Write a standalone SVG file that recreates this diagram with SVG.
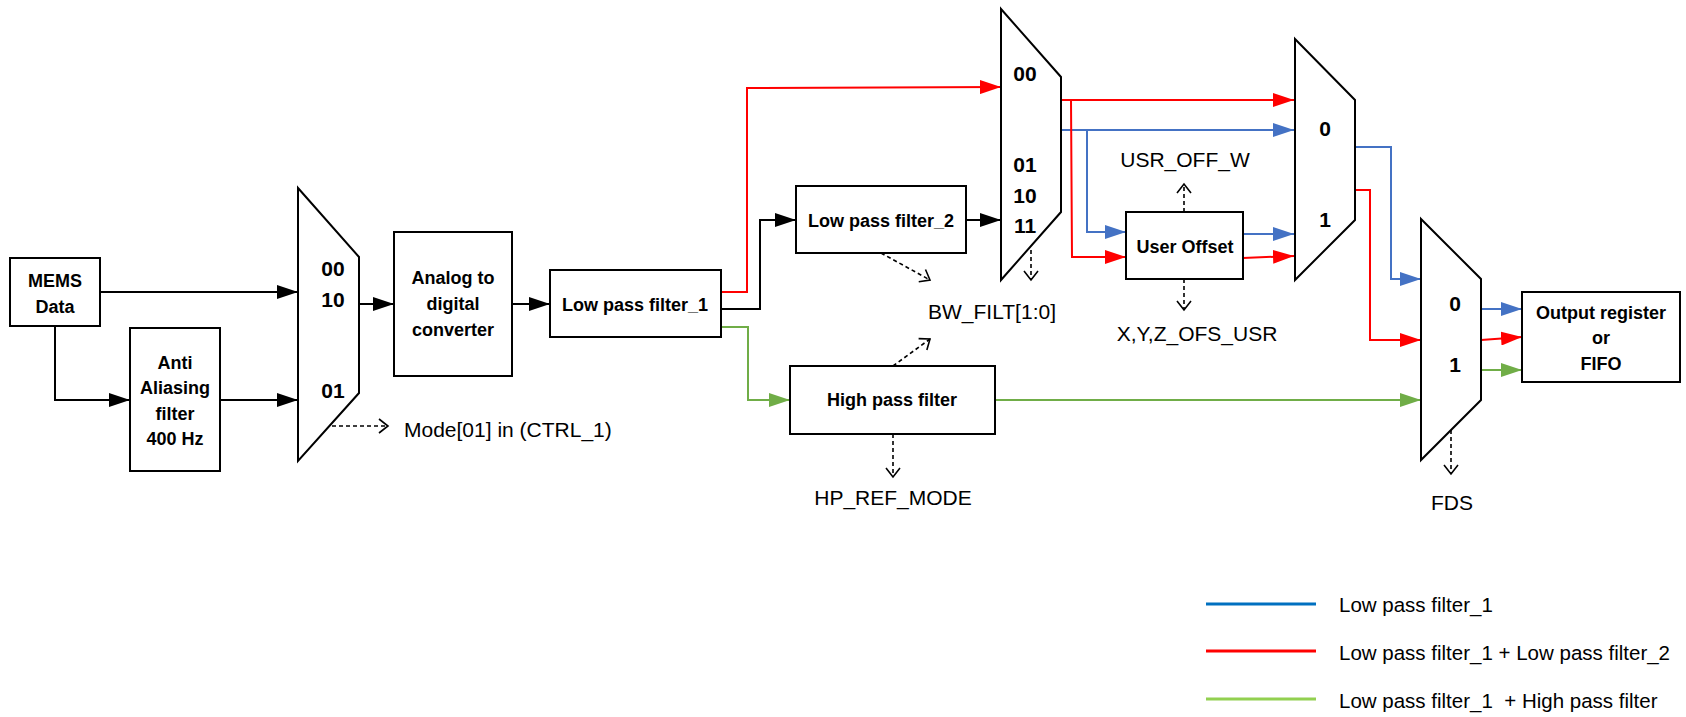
<svg xmlns="http://www.w3.org/2000/svg" width="1686" height="717" viewBox="0 0 1686 717">
<style>
.box{fill:#fff;stroke:#000;stroke-width:2}
.mux{fill:#fff;stroke:#000;stroke-width:2;stroke-linejoin:miter}
.bt{font-family:"Liberation Sans",Arial,sans-serif;font-weight:bold;font-size:18px;text-anchor:middle;fill:#000}
.ml{font-family:"Liberation Sans",Arial,sans-serif;font-weight:bold;font-size:21px;text-anchor:middle;fill:#000}
.lb{font-family:"Liberation Sans",Arial,sans-serif;font-size:21px;fill:#000}
.lg{font-family:"Liberation Sans",Arial,sans-serif;font-size:20.5px;fill:#000;white-space:pre}
.k{fill:none;stroke:#000;stroke-width:2}
.b{fill:none;stroke:#4472C4;stroke-width:2}
.r{fill:none;stroke:#FF0000;stroke-width:2}
.g{fill:none;stroke:#70AD47;stroke-width:2}
.d{fill:none;stroke:#000;stroke-width:1.6;stroke-dasharray:4 3}
</style>
<defs>
<marker id="ak" markerUnits="userSpaceOnUse" markerWidth="21" markerHeight="14" refX="21" refY="7" orient="auto"><path d="M0,0 L21,7 L0,14 z" fill="#000"/></marker>
<marker id="ab" markerUnits="userSpaceOnUse" markerWidth="21" markerHeight="14" refX="21" refY="7" orient="auto"><path d="M0,0 L21,7 L0,14 z" fill="#4472C4"/></marker>
<marker id="ar" markerUnits="userSpaceOnUse" markerWidth="21" markerHeight="14" refX="21" refY="7" orient="auto"><path d="M0,0 L21,7 L0,14 z" fill="#FF0000"/></marker>
<marker id="ag" markerUnits="userSpaceOnUse" markerWidth="21" markerHeight="14" refX="21" refY="7" orient="auto"><path d="M0,0 L21,7 L0,14 z" fill="#70AD47"/></marker>
<marker id="ao" markerUnits="userSpaceOnUse" markerWidth="12" markerHeight="16" refX="10" refY="8" orient="auto"><path d="M1,1 L10,8 L1,15" fill="none" stroke="#000" stroke-width="1.6"/></marker>
</defs>
<rect width="1686" height="717" fill="#fff"/>

<g id="connectors">
<path class="k" d="M100,292 L298,292" marker-end="url(#ak)"/>
<path class="k" d="M55,326 L55,400 L130,400" marker-end="url(#ak)"/>
<path class="k" d="M220,400 L298,400" marker-end="url(#ak)"/>
<path class="k" d="M359,304 L394,304" marker-end="url(#ak)"/>
<path class="k" d="M512,304 L550,304" marker-end="url(#ak)"/>
<path class="r" d="M721,292 L747,292 L747,88 L1001,87" marker-end="url(#ar)"/>
<path class="k" d="M721,309 L760,309 L760,220 L796,220" marker-end="url(#ak)"/>
<path class="g" d="M721,327 L748,327 L748,400 L790,400" marker-end="url(#ag)"/>
<path class="k" d="M966,220 L1001,220" marker-end="url(#ak)"/>
<path class="r" d="M1061,100 L1294,100" marker-end="url(#ar)"/>
<path class="b" d="M1061,130 L1294,130" marker-end="url(#ab)"/>
<path class="r" d="M1071,100 L1072,257 L1126,257" marker-end="url(#ar)"/>
<path class="b" d="M1087,130 L1087,232 L1126,232" marker-end="url(#ab)"/>
<path class="b" d="M1243,234 L1294,234" marker-end="url(#ab)"/>
<path class="r" d="M1243,258 L1294,256" marker-end="url(#ar)"/>
<path class="b" d="M1355,147 L1391,147 L1391,279 L1421,279" marker-end="url(#ab)"/>
<path class="r" d="M1355,190 L1370,190 L1370,340 L1421,340" marker-end="url(#ar)"/>
<path class="g" d="M995,400 L1421,400" marker-end="url(#ag)"/>
<path class="b" d="M1481,309 L1522,309" marker-end="url(#ab)"/>
<path class="r" d="M1481,340 L1522,337" marker-end="url(#ar)"/>
<path class="g" d="M1481,370 L1522,370" marker-end="url(#ag)"/>
<path class="d" d="M332,426 L388,426" marker-end="url(#ao)"/>
<path class="d" d="M881,253 L930,280" marker-end="url(#ao)"/>
<path class="d" d="M893,366 L930,339" marker-end="url(#ao)"/>
<path class="d" d="M893,434 L893,477" marker-end="url(#ao)"/>
<path class="d" d="M1031,250 L1031,280" marker-end="url(#ao)"/>
<path class="d" d="M1184,212 L1184,184" marker-end="url(#ao)"/>
<path class="d" d="M1184,279 L1184,310" marker-end="url(#ao)"/>
<path class="d" d="M1451,430 L1451,474" marker-end="url(#ao)"/>
</g>

<g id="mems"><rect class="box" x="10" y="258" width="90" height="68"/><text class="bt" x="55" y="287">MEMS</text><text class="bt" x="55" y="313">Data</text></g>
<g id="antialias"><rect class="box" x="130" y="328" width="90" height="143"/><text class="bt" x="175" y="369">Anti</text><text class="bt" x="175" y="394">Aliasing</text><text class="bt" x="175" y="420">filter</text><text class="bt" x="175" y="445">400 Hz</text></g>
<g id="mux1"><path class="mux" d="M298,188 L359,257 L359,393 L298,461 z"/><text class="ml" x="333" y="276">00</text><text class="ml" x="333" y="307">10</text><text class="ml" x="333" y="398">01</text></g>
<g id="mode"><text class="lb" x="404" y="437">Mode[01] in (CTRL_1)</text></g>
<g id="adc"><rect class="box" x="394" y="232" width="118" height="144"/><text class="bt" x="453" y="284">Analog to</text><text class="bt" x="453" y="310">digital</text><text class="bt" x="453" y="336">converter</text></g>
<g id="lpf1"><rect class="box" x="550" y="270" width="171" height="67"/><text class="bt" x="635" y="311">Low pass filter_1</text></g>
<g id="lpf2"><rect class="box" x="796" y="186" width="170" height="67"/><text class="bt" x="881" y="227">Low pass filter_2</text></g>
<g id="hpf"><rect class="box" x="790" y="366" width="205" height="68"/><text class="bt" x="892" y="406">High pass filter</text></g>
<g id="bwfilt"><text class="lb" x="928" y="319">BW_FILT[1:0]</text></g>
<g id="hpref"><text class="lb" x="893" y="505" text-anchor="middle">HP_REF_MODE</text></g>
<g id="mux2"><path class="mux" d="M1001,9 L1061,77 L1061,212 L1001,280 z"/><text class="ml" x="1025" y="81">00</text><text class="ml" x="1025" y="172">01</text><text class="ml" x="1025" y="203">10</text><text class="ml" x="1025" y="233">11</text></g>
<g id="useroffset"><rect class="box" x="1126" y="212" width="117" height="67"/><text class="bt" x="1185" y="253">User Offset</text></g>
<g id="usroffw"><text class="lb" x="1185" y="167" text-anchor="middle">USR_OFF_W</text></g>
<g id="ofsusr"><text class="lb" x="1197" y="341" text-anchor="middle">X,Y,Z_OFS_USR</text></g>
<g id="mux3"><path class="mux" d="M1295,39 L1355,100 L1355,220 L1295,280 z"/><text class="ml" x="1325" y="136">0</text><text class="ml" x="1325" y="227">1</text></g>
<g id="mux4"><path class="mux" d="M1421,219 L1481,279 L1481,400 L1421,460 z"/><text class="ml" x="1455" y="311">0</text><text class="ml" x="1455" y="372">1</text></g>
<g id="fds"><text class="lb" x="1452" y="510" text-anchor="middle">FDS</text></g>
<g id="output"><rect class="box" x="1522" y="292" width="158" height="90"/><text class="bt" x="1601" y="319">Output register</text><text class="bt" x="1601" y="344">or</text><text class="bt" x="1601" y="370">FIFO</text></g>

<g id="legend">
<line x1="1206" y1="604" x2="1316" y2="604" stroke="#0070C0" stroke-width="3"/>
<line x1="1206" y1="651" x2="1316" y2="651" stroke="#FF0000" stroke-width="3"/>
<line x1="1206" y1="699" x2="1316" y2="699" stroke="#92D050" stroke-width="3"/>
<text class="lg" x="1339" y="612">Low pass filter_1</text>
<text class="lg" x="1339" y="660">Low pass filter_1 + Low pass filter_2</text>
<text class="lg" x="1339" y="708" xml:space="preserve">Low pass filter_1  + High pass filter</text>
</g>
</svg>
